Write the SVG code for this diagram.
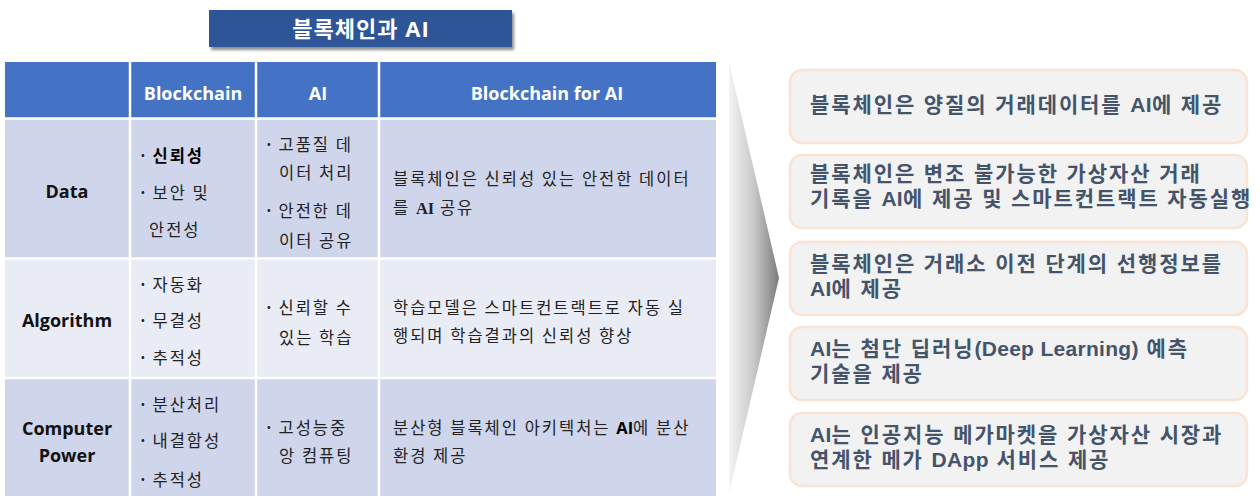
<svg xmlns="http://www.w3.org/2000/svg" width="1260" height="496" viewBox="0 0 1260 496">
<defs>
<linearGradient id="chev" x1="0" y1="0" x2="1" y2="0">
<stop offset="0" stop-color="#F4F4F4"/>
<stop offset="0.5" stop-color="#C8C8C8"/>
<stop offset="1" stop-color="#7A7A7A"/>
</linearGradient>
<filter id="sh" x="-10%" y="-30%" width="120%" height="180%">
<feGaussianBlur in="SourceAlpha" stdDeviation="1.5"/>
<feOffset dx="2" dy="3" result="b"/>
<feComponentTransfer><feFuncA type="linear" slope="0.45"/></feComponentTransfer>
<feMerge><feMergeNode/><feMergeNode in="SourceGraphic"/></feMerge>
</filter>
<style>
.hd{fill:#4472C4}
.r1{fill:#CFD5EA}
.r2{fill:#E9EBF5}
.grid{stroke:#FFFFFF;stroke-width:2.5;fill:none}
.ht{font-family:"Open Sans","Noto Sans CJK KR",sans-serif;font-weight:700;font-size:18px;fill:#FFFFFF;text-anchor:middle}
.rl{font-family:"Open Sans","Noto Sans CJK KR",sans-serif;font-weight:700;font-size:18px;fill:#111111;text-anchor:middle}
.bt{font-family:"Noto Sans CJK KR",sans-serif;font-size:16.5px;fill:#222222;letter-spacing:2px}
.bu{font-size:11px}
.bb{font-weight:700;fill:#000000}
.bx{fill:#F2F2F2;stroke:#FBE3D3;stroke-width:2.5}
.bxt{font-family:"Liberation Sans","Noto Sans CJK KR",sans-serif;font-weight:700;font-size:21px;fill:#44546A;letter-spacing:1.9px}
.la{letter-spacing:0.3px}
</style>
</defs>
<rect width="1260" height="496" fill="#FFFFFF"/>

<g id="title">
<rect x="209" y="10" width="303" height="37" fill="#2F5597" filter="url(#sh)"/>
<text x="361" y="37" font-family="'Open Sans','Noto Sans CJK KR',sans-serif" font-weight="700" font-size="22" letter-spacing="1" fill="#FFFFFF" text-anchor="middle">블록체인과 AI</text>
</g>

<g id="table">
<rect class="hd" x="5" y="62" width="711" height="56"/>
<rect class="r1" x="5" y="119" width="711" height="139"/>
<rect class="r2" x="5" y="258" width="711" height="120"/>
<rect class="r1" x="5" y="378" width="711" height="118"/>
<path class="grid" d="M130 62V496M256 62V496M379 62V496"/>
<path class="grid" d="M5 118.5H716M5 258.5H716M5 378H716" stroke-width="3"/>
</g>

<g id="header">
<text class="ht" x="193" y="100">Blockchain</text>
<text class="ht" x="318" y="100">AI</text>
<text class="ht" x="547" y="100">Blockchain for AI</text>
</g>

<g id="row-data">
<text class="rl" x="67" y="198">Data</text>
<text class="bt" x="141" y="162"><tspan class="bu" baseline-shift="3">•</tspan> <tspan class="bb">신뢰성</tspan></text>
<text class="bt" x="141" y="199"><tspan class="bu" baseline-shift="3">•</tspan> 보안 및</text>
<text class="bt" x="149" y="236">안전성</text>
<text class="bt" x="267" y="151"><tspan class="bu" baseline-shift="3">•</tspan> 고품질 데</text>
<text class="bt" x="279" y="179">이터 처리</text>
<text class="bt" x="267" y="217"><tspan class="bu" baseline-shift="3">•</tspan> 안전한 데</text>
<text class="bt" x="279" y="247">이터 공유</text>
<text class="bt" x="393" y="185">블록체인은 신뢰성 있는 안전한 데이터</text>
<text class="bt" x="393" y="214">를 <tspan font-family="'Liberation Serif',serif" font-weight="700" letter-spacing="0">AI</tspan> 공유</text>
</g>

<g id="row-algorithm">
<text class="rl" x="67" y="327">Algorithm</text>
<text class="bt" x="141" y="291"><tspan class="bu" baseline-shift="3">•</tspan> 자동화</text>
<text class="bt" x="141" y="327"><tspan class="bu" baseline-shift="3">•</tspan> 무결성</text>
<text class="bt" x="141" y="364"><tspan class="bu" baseline-shift="3">•</tspan> 추적성</text>
<text class="bt" x="267" y="314"><tspan class="bu" baseline-shift="3">•</tspan> 신뢰할 수</text>
<text class="bt" x="279" y="344">있는 학습</text>
<text class="bt" x="393" y="314">학습모델은 스마트컨트랙트로 자동 실</text>
<text class="bt" x="393" y="342">행되며 학습결과의 신뢰성 향상</text>
</g>

<g id="row-computer">
<text class="rl" x="67" y="435">Computer<tspan x="67" dy="27">Power</tspan></text>
<text class="bt" x="141" y="411"><tspan class="bu" baseline-shift="3">•</tspan> 분산처리</text>
<text class="bt" x="141" y="447"><tspan class="bu" baseline-shift="3">•</tspan> 내결함성</text>
<text class="bt" x="141" y="486"><tspan class="bu" baseline-shift="3">•</tspan> 추적성</text>
<text class="bt" x="267" y="434"><tspan class="bu" baseline-shift="3">•</tspan> 고성능중</text>
<text class="bt" x="279" y="462">앙 컴퓨팅</text>
<text class="bt" x="393" y="434">분산형 블록체인 아키텍처는 <tspan font-family="'Open Sans',sans-serif" font-weight="700" fill="#000" letter-spacing="0">AI</tspan>에 분산</text>
<text class="bt" x="393" y="462">환경 제공</text>
</g>

<g id="connectors">
<polygon points="729,62 779,278 729,493" fill="url(#chev)"/>
</g>

<g id="box1">
<rect class="bx" x="790" y="70" width="457" height="73" rx="12"/>
<text class="bxt" x="810" y="112">블록체인은 양질의 거래데이터를 <tspan class="la">AI</tspan>에 제공</text>
</g>
<g id="box2">
<rect class="bx" x="790" y="155" width="457" height="73" rx="12"/>
<text class="bxt" x="810" y="181">블록체인은 변조 불가능한 가상자산 거래</text>
<text class="bxt" x="810" y="206">기록을 <tspan class="la">AI</tspan>에 제공 및 스마트컨트랙트 자동실행</text>
</g>
<g id="box3">
<rect class="bx" x="790" y="242" width="457" height="73" rx="12"/>
<text class="bxt" x="810" y="271">블록체인은 거래소 이전 단계의 선행정보를</text>
<text class="bxt" x="810" y="296"><tspan class="la">AI</tspan>에 제공</text>
</g>
<g id="box4">
<rect class="bx" x="790" y="327" width="457" height="73" rx="12"/>
<text class="bxt" x="810" y="356"><tspan class="la">AI</tspan>는 첨단 딥러닝<tspan class="la">(Deep Learning)</tspan> 예측</text>
<text class="bxt" x="810" y="381">기술을 제공</text>
</g>
<g id="box5">
<rect class="bx" x="790" y="413" width="457" height="73" rx="12"/>
<text class="bxt" x="810" y="442"><tspan class="la">AI</tspan>는 인공지능 메가마켓을 가상자산 시장과</text>
<text class="bxt" x="810" y="467">연계한 메가 <tspan class="la">DApp</tspan> 서비스 제공</text>
</g>
</svg>
